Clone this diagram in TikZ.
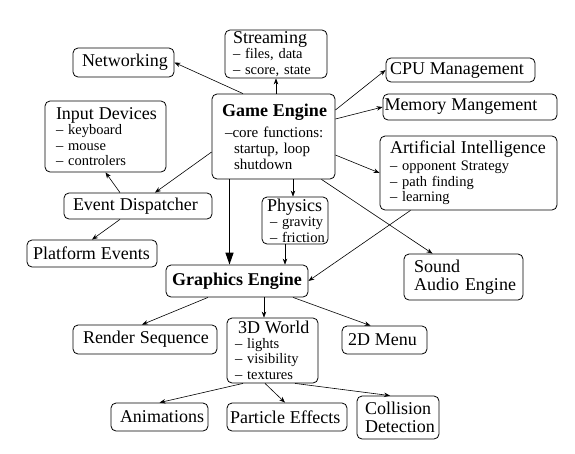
\documentclass[tikz,border=0pt]{standalone}
\usepackage{fontspec}
\setmainfont{Liberation Serif}
\usetikzlibrary{arrows.meta,calc}
\newcommand\bigsz{\fontsize{18}{19}\selectfont}
\newcommand\smallsz{\fontsize{14.5}{15.5}\selectfont}
\newcommand\lnx[1]{\mbox{#1}}
\newcommand\indx[2]{\mbox{\kern#1\relax #2}}
\begin{document}
\begin{tikzpicture}[x=1pt,y=-1pt,
  box/.style={draw, rounded corners=5pt, line width=0.8pt, inner ysep=0pt, align=left, font=\smallsz},
  twoline/.style={font=\fontsize{18}{18.5}\selectfont},
  arr/.style={-{Stealth[length=6pt,width=4.5pt]}, line width=0.6pt},
  bigarr/.style={-{Triangle[length=12pt,width=8pt]}, line width=1.3pt}]
\useasboundingbox (0,0) rectangle (575,453);
% nodes
\node[box, minimum height=29pt, inner xsep=9pt, text width=83pt] (net) at (123.5,62.5) {\lnx{\bigsz Networking}};
\node[box, minimum height=48pt, inner xsep=8pt, text width=86pt] (stream) at (276,54) {\lnx{\bigsz Streaming}\\ \lnx{-- files, data}\\ \lnx{-- score, state}};
\node[box, font=\fontsize{15}{16}\selectfont, minimum height=85pt, inner xsep=10pt, text width=103pt] (ge) at (273.5,136.5) {\lnx{\bfseries\bigsz Game Engine}\\[5pt] \indx{3pt}{--core functions:}\\ \indx{12pt}{startup, loop}\\ \indx{12pt}{shutdown}};
\node[box, minimum height=71pt, inner xsep=11pt, text width=99pt] (input) at (105.5,136.5) {\lnx{\bigsz Input Devices}\\ \lnx{-- keyboard}\\ \lnx{-- mouse}\\ \lnx{-- controlers}};
\node[box, minimum height=26pt, inner xsep=9pt, text width=130pt] (ed) at (138,206) {\lnx{\bigsz Event Dispatcher}};
\node[box, minimum height=27pt, inner xsep=6pt, text width=118pt] (plat) at (92,253.5) {\lnx{\bigsz Platform Events}};
\node[box, minimum height=24pt, inner xsep=4pt, text width=141pt] (cpu) at (460.5,70) {\lnx{\bigsz CPU Management}};
\node[box, minimum height=26pt, inner xsep=1.5pt, text width=171pt] (mem) at (470,107) {\lnx{\bigsz Memory Mangement}};
\node[box, minimum height=74pt, inner xsep=10pt, text width=157pt] (ai) at (468.5,173) {\lnx{\bigsz Artificial Intelligence}\\[1.5pt] \lnx{-- opponent Strategy}\\ \lnx{-- path finding}\\ \lnx{-- learning}};
\node[box, minimum height=47pt, inner xsep=5pt, text width=56pt] (phys) at (295,220.5) {\lnx{\bigsz Physics}\\ \indx{3pt}{-- gravity}\\ \indx{3pt}{-- friction}};
\node[box, minimum height=32pt, inner xsep=5pt, text width=132pt, align=center] (gfx) at (237,281) {\lnx{\bfseries\bigsz Graphics Engine}};
\node[box, twoline, minimum height=46pt, inner xsep=10pt, text width=99pt] (sound) at (463.5,277) {\lnx{Sound}\\ \lnx{Audio Engine}};
\node[box, minimum height=29pt, inner xsep=10pt, text width=124pt] (render) at (145,339.5) {\lnx{\bigsz Render Sequence}};
\node[box, minimum height=65pt, inner xsep=8pt, text width=75pt] (world) at (272.5,350.5) {\indx{3pt}{\bigsz 3D World}\\[-1pt] \lnx{-- lights}\\ \lnx{-- visibility}\\ \lnx{-- textures}};
\node[box, minimum height=28pt, inner xsep=6pt, text width=73pt] (menu) at (384.5,340) {\lnx{\bigsz 2D Menu}};
\node[box, minimum height=28pt, inner xsep=9pt, text width=79pt] (anim) at (159.5,417) {\lnx{\bigsz Animations}};
\node[box, minimum height=28pt, inner xsep=3pt, text width=114pt] (part) at (287,417) {\lnx{\bigsz Particle Effects}};
\node[box, twoline, minimum height=43pt, inner xsep=8pt, text width=66pt] (coll) at (398,417.5) {\lnx{Collision}\\ \lnx{Detection}};
% helper coordinates
\coordinate (g1) at ([xshift=-44pt]ge.south);
\coordinate (p1) at ([xshift=-2pt]phys.north);
\coordinate (p2) at ([xshift=-10pt]phys.south);
\coordinate (g2) at ([xshift=27pt]gfx.south);
% connectors
\draw[arr] ([xshift=-30.5pt]ge.north) -- (net.east);
\draw[arr] (stream.south |- ge.north) -- (stream.south);
\draw[arr] ([yshift=26.5pt]ge.east) -- (cpu.west);
\draw[arr] ([yshift=17.5pt]ge.east) -- (mem.west);
\draw[arr] ([yshift=-18.5pt]ge.east) -- (ai.west);
\draw[arr] ([xshift=48pt]ge.south) -- ([xshift=-31pt]sound.north);
\draw[arr] ([xshift=-58pt]ai.south) -- (gfx.east);
\draw[arr] ([yshift=-15.5pt]ge.west) -- ([xshift=17pt]ed.north);
\draw[arr] ([xshift=-18pt]ed.north) -- (input.south);
\draw[arr] ([xshift=-18pt]ed.south) -- (plat.north);
\draw[bigarr] (g1) -- (g1 |- gfx.north);
\draw[arr] (p1 |- ge.south) -- (p1);
\draw[arr] (p2) -- (p2 |- gfx.north);
\draw[arr] ([xshift=-29pt]gfx.south) -- ([xshift=-3pt]render.north);
\draw[arr] (g2) -- (g2 |- world.north);
\draw[arr] ([xshift=56pt]gfx.south) -- ([xshift=-14pt]menu.north);
\draw[arr] ([xshift=-29.5pt]world.south) -- (anim.north);
\draw[arr] ([xshift=-7.5pt]world.south) -- ([xshift=-2pt]part.north);
\draw[arr] ([xshift=22.5pt]world.south) -- ([xshift=-8pt]coll.north);
\end{tikzpicture}
\end{document}
